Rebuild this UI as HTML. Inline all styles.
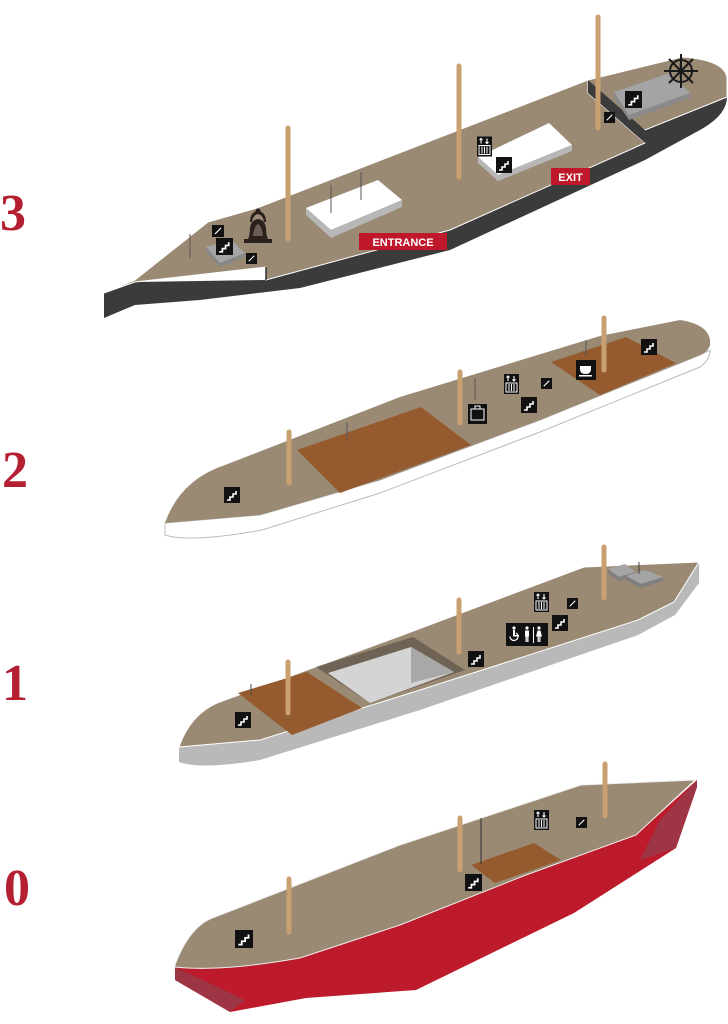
<!DOCTYPE html>
<html><head><meta charset="utf-8"><style>
html,body{margin:0;padding:0;background:#fff;width:728px;height:1024px;overflow:hidden}
svg{display:block}
.n{font-family:"Liberation Serif",serif;font-weight:bold;fill:#b41f31;font-size:52px}
.lab{font-family:"Liberation Sans",sans-serif;font-weight:bold;fill:#fff;font-size:11px}
</style></head><body>
<svg width="728" height="1024" viewBox="0 0 728 1024" xmlns="http://www.w3.org/2000/svg">
<defs>
<symbol id="st" viewBox="0 0 16 16"><rect width="16" height="16" fill="#111"/><path d="M3 13h3v-3h3v-3h3V4" stroke="#fff" stroke-width="1.6" fill="none"/></symbol>
<symbol id="st2" viewBox="0 0 16 16"><rect width="16" height="16" fill="#111"/><path d="M4 12L12 4" stroke="#fff" stroke-width="1.6"/></symbol>
<symbol id="el" viewBox="0 0 15 20"><rect width="15" height="20" fill="#111"/><path d="M4 7V2M2.5 3.5L4 2 5.5 3.5M10 2v5M8.5 5.5L10 7 11.5 5.5" stroke="#fff" stroke-width="1.1" fill="none"/><rect x="2" y="9" width="11" height="9" fill="none" stroke="#fff" stroke-width="1"/><path d="M5 10v7M7.5 10v7M10 10v7" stroke="#fff" stroke-width="1"/></symbol>
</defs>

<text class="n" x="0" y="230">3</text>
<text class="n" x="2" y="487">2</text>
<text class="n" x="2" y="700">1</text>
<text class="n" x="4" y="905">0</text>

<!-- DECK 3 -->
<path d="M104,293 L104,318 L135,305 L200,300 L300,288 L450,250 L645,160 L700,130 Q727,115 727,97 L727,78 L645,130 L450,230 L266,280 L135,282 Z" fill="#3b3b3b"/>
<path d="M104,293 L135,280 L208,222 L257,208 L588,80 L588,93 L645,143 L450,230 L266,280 L266,267 L135,282 Z" fill="#9a8a74" stroke="#fff" stroke-width="1"/>
<path d="M588,80 L682,57 Q725,60 727,78 L727,97 L645,130 L588,93 Z" fill="#9a8a74" stroke="#fff" stroke-width="1"/>
<path d="M588,80 L588,93 L645,143 L645,130 Z" fill="#3b3b3b"/>
<path d="M266,267 L266,280" stroke="#333" stroke-width="1.5"/>
<path d="M306,208 L378,180 L402,200 L331,230 Z" fill="#fff"/>
<path d="M306,208 L306,215 L331,238 L402,207 L402,200 L331,230 Z" fill="#b7b7b7"/>
<path d="M478,157 L549,123 L572,145 L498,175 Z" fill="#fff"/>
<path d="M478,157 L478,163 L498,181 L572,151 L572,145 L498,175 Z" fill="#b7b7b7"/>
<path d="M614,92 L670,73 L690,93 L629,115 Z" fill="#a4a4a4"/>
<path d="M614,92 L614,98 L629,120 L690,98 L690,93 L629,115 Z" fill="#8a8a8a"/>
<path d="M206,247 L231,240 L245,253 L220,263 Z" fill="#a4a4a4"/>
<path d="M206,247 L206,251 L220,267 L245,257 L245,253 L220,263 Z" fill="#888"/>
<g stroke="#555" stroke-width="1"><path d="M190,234V258M331,185V213M361,172V200M680,63V78"/></g>
<g stroke="#c9a070" stroke-width="5" stroke-linecap="round"><path d="M288,128V239M459,66V177M598,17V128"/></g>
<!-- bell -->
<g fill="#2a211c"><path d="M250,222 Q250,212 258,211 Q266,212 266,222 L264,222 Q263,215 258,214 Q253,215 252,222 Z"/><path d="M247,241 Q250,236 250,228 Q251,220 258,219 Q265,220 266,228 Q266,236 269,241 Z"/><rect x="244" y="239" width="28" height="4"/><circle cx="258" cy="211" r="2.5"/></g>
<path d="M253,236 Q254,226 258,224 Q262,226 263,236 Z" fill="#6d5e55"/>
<!-- wheel -->
<g stroke="#1a1a1a" stroke-width="2" fill="none"><circle cx="681" cy="71" r="11"/><path d="M681,54V88M664,71H698M669,59L693,83M693,59L669,83"/></g>
<rect x="359" y="233" width="88" height="17" fill="#c0182b"/><text class="lab" x="403" y="246" text-anchor="middle">ENTRANCE</text>
<rect x="551" y="168" width="39" height="17" fill="#c0182b"/><text class="lab" x="570.5" y="181" text-anchor="middle">EXIT</text>
<use href="#st" x="216" y="238" width="17" height="17"/>
<use href="#st2" x="212" y="225" width="12" height="12"/>
<use href="#st2" x="246" y="253" width="11" height="11"/>
<use href="#st" x="496" y="157" width="16" height="16"/>
<use href="#st" x="625" y="91" width="17" height="17"/>
<use href="#st2" x="604" y="112" width="11" height="11"/>
<use href="#el" x="477" y="136" width="15" height="21"/>

<!-- DECK 2 -->
<path d="M165,523 L165,535 Q190,543 262,530 L380,493 L540,432 L700,367 Q710,360 710,350 L700,355 L540,420 L380,480 L260,515 Z" fill="#fff" stroke="#bbb" stroke-width="1"/>
<path d="M165,523 Q180,480 225,465 L400,397 L600,336 L680,320 Q712,325 710,345 Q708,352 700,355 L540,420 L380,480 L260,515 Z" fill="#9a8a74"/>
<path d="M297,450 L421,407 L471,445 L340,493 Z" fill="#955b2f"/>
<path d="M551,362 L626,337 L676,363 L600,395 Z" fill="#955b2f"/>
<g stroke="#555" stroke-width="1"><path d="M347,422V441M475,378V400M586,340V356"/></g>
<g stroke="#c9a070" stroke-width="5" stroke-linecap="round"><path d="M289,432V483M460,372V423M604,318V370"/></g>
<use href="#st" x="224" y="487" width="16" height="16"/>
<use href="#st" x="521" y="397" width="16" height="16"/>
<use href="#st2" x="541" y="378" width="11" height="11"/>
<use href="#st" x="641" y="339" width="16" height="16"/>
<use href="#el" x="504" y="374" width="15" height="20"/>
<rect x="468" y="404" width="19" height="20" fill="#111"/><path d="M471,409h13v11h-13z M475,409v-3h5v3" stroke="#fff" fill="none" stroke-width="1"/>
<rect x="576" y="360" width="20" height="20" fill="#111"/><path d="M580,366h11v3q0,5 -5.5,5q-5.5,0 -5.5,-5z" fill="#fff"/><rect x="579" y="375" width="13" height="1.5" fill="#fff"/>

<!-- DECK 1 -->
<path d="M179,747 L179,762 Q200,770 260,760 L420,710 L638,635 L675,615 L699,583 L699,562 L674,602 L638,620 L420,690 L260,740 Z" fill="#b9b9b9"/>
<path d="M179,747 Q190,715 217,703 L400,636 L584,567 L699,562 L674,602 L638,620 L420,690 L260,740 Z" fill="#9a8a74" stroke="#fff" stroke-width="1"/>
<path d="M238,693 L307,672 L362,708 L292,735 Z" fill="#955b2f"/>
<path d="M316,667 L413,637 L465,670 L370,703 Z" fill="#6f6355"/>
<path d="M328,673 L411,647 L454,672 L370,703 Z" fill="#d4d4d4"/>
<path d="M411,647 L411,683 L454,672 Z" fill="#a8a8a8"/>
<path d="M608,569 L625,564 L636,572 L619,577 Z" fill="#a4a4a4"/><path d="M608,569 L608,573 L619,581 L636,576 L636,572 L619,577 Z" fill="#7f7f7f"/>
<path d="M626,576 L645,570 L663,577 L641,584 Z" fill="#a4a4a4"/><path d="M626,576 L626,580 L641,588 L663,581 L663,577 L641,584 Z" fill="#7f7f7f"/>
<g stroke="#444" stroke-width="1"><path d="M251,684V695M639,562V574"/></g>
<g stroke="#c9a070" stroke-width="5" stroke-linecap="round"><path d="M288,662V713M459,600V652M604,547V598"/></g>
<use href="#st" x="235" y="712" width="16" height="16"/>
<use href="#st" x="468" y="651" width="16" height="16"/>
<use href="#st" x="552" y="615" width="16" height="16"/>
<use href="#st2" x="567" y="598" width="11" height="11"/>
<use href="#el" x="534" y="592" width="15" height="20"/>
<rect x="506" y="623" width="42" height="23" fill="#111"/>
<g fill="#fff"><circle cx="514" cy="628" r="1.6"/><path d="M513,630h2v5h4v1.5h-6z"/><path d="M516,633 a4,4 0 1 1 -6,3.5" stroke="#fff" stroke-width="1.2" fill="none"/>
<circle cx="527" cy="628" r="1.6"/><rect x="525" y="630.5" width="4" height="6"/><rect x="525.5" y="636" width="1.3" height="6"/><rect x="527.2" y="636" width="1.3" height="6"/>
<rect x="533" y="627" width="1" height="16"/>
<circle cx="539" cy="628" r="1.6"/><path d="M537.5,630.5h3l1.5,6h-6z"/><rect x="537.6" y="636" width="1.2" height="6"/><rect x="539.3" y="636" width="1.2" height="6"/></g>

<!-- DECK 0 -->
<path d="M175,967 L175,980 L230,1012 L306,998 L416,990 L574,913 L676,848 L697,787 L697,780 L636,835 L526,875 Z" fill="#bd1a2b"/>
<path d="M175,967 L175,980 L230,1012 L245,1000 Z" fill="#9e3545"/>
<path d="M697,780 L697,787 L676,848 L640,860 L660,820 Z" fill="#9e3545"/>
<path d="M175,965 Q190,925 215,917 L400,845 L581,785 L695,780 L636,835 L526,875 L400,925 L300,958 Q220,972 175,967 Z" fill="#9a8a74" stroke="#eee" stroke-width="1"/>
<path d="M471,865 L534,843 L561,860 L495,883 Z" fill="#955b2f"/>
<g stroke="#333" stroke-width="1"><path d="M481,818V864"/></g>
<g stroke="#c9a070" stroke-width="5" stroke-linecap="round"><path d="M289,879V932M460,818V870M605,764V816"/></g>
<use href="#st" x="235" y="930" width="18" height="18"/>
<use href="#st" x="465" y="874" width="17" height="17"/>
<use href="#st2" x="576" y="817" width="11" height="11"/>
<use href="#el" x="534" y="810" width="15" height="20"/>
</svg>
</body></html>
